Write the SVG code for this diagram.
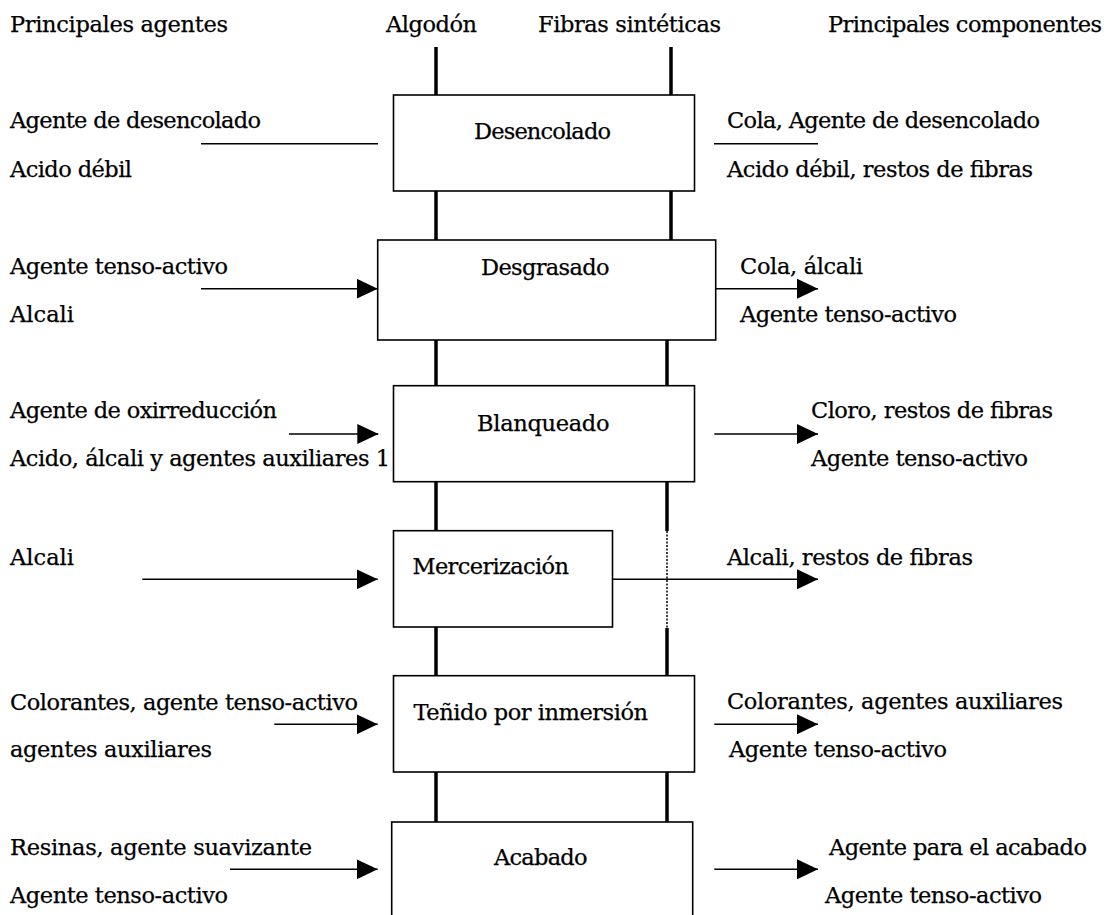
<svg xmlns="http://www.w3.org/2000/svg" width="1109" height="915" viewBox="0 0 1109 915">
<style>
.t{font-family:"DejaVu Serif","Liberation Serif",serif;font-size:22.5px;fill:#000;stroke:#000;stroke-width:0.25}
.box{fill:#fff;stroke:#000;stroke-width:1.6}
.rail{stroke:#000;stroke-width:3.5;fill:none}
.dot{stroke:#000;stroke-width:1.5;stroke-dasharray:2 1.5;fill:none}
.ln{stroke:#000;stroke-width:1.6;fill:none}
.ar{stroke:#000;stroke-width:1.6;fill:none;marker-end:url(#ah)}
</style>
<defs>
<marker id="ah" markerUnits="userSpaceOnUse" markerWidth="21" markerHeight="20" refX="21" refY="10" orient="auto" viewBox="0 0 21 20">
<path d="M0,0 L21,10 L0,20 Z" fill="#000"/>
</marker>
</defs>
<rect width="1109" height="915" fill="#fff"/>
<g id="headers">
<text class="t" x="10" y="32" textLength="218">Principales agentes</text>
<text class="t" x="386" y="32" textLength="91">Algodón</text>
<text class="t" x="538" y="32" textLength="183">Fibras sintéticas</text>
<text class="t" x="828" y="32" textLength="274">Principales componentes</text>
</g>
<g id="rails">
<line class="rail" x1="436" y1="47" x2="436" y2="95"/>
<line class="rail" x1="436" y1="191" x2="436" y2="240"/>
<line class="rail" x1="436" y1="340" x2="436" y2="386"/>
<line class="rail" x1="436" y1="482" x2="436" y2="531"/>
<line class="rail" x1="436" y1="627" x2="436" y2="676"/>
<line class="rail" x1="436" y1="772" x2="436" y2="822"/>
<line class="rail" x1="671" y1="47" x2="671" y2="95"/>
<line class="rail" x1="671" y1="191" x2="671" y2="240"/>
<line class="rail" x1="667" y1="340" x2="667" y2="386"/>
<line class="rail" x1="667" y1="482" x2="667" y2="531"/>
<line class="dot" x1="667" y1="531" x2="667" y2="628"/>
<line class="rail" x1="667" y1="628" x2="667" y2="676"/>
<line class="rail" x1="667" y1="772" x2="667" y2="822"/>
</g>
<g id="connectors">
<line class="ln" x1="201" y1="143.7" x2="378" y2="143.7"/>
<line class="ln" x1="714" y1="143.7" x2="818" y2="143.7"/>
<line class="ar" x1="201" y1="288.7" x2="377.7" y2="288.7"/>
<line class="ar" x1="715.7" y1="288.7" x2="818" y2="288.7"/>
<line class="ar" x1="289" y1="434" x2="378.3" y2="434"/>
<line class="ar" x1="714.3" y1="434" x2="818" y2="434"/>
<line class="ar" x1="142.3" y1="579.3" x2="377.7" y2="579.3"/>
<line class="ar" x1="612.7" y1="579.3" x2="818" y2="579.3"/>
<line class="ar" x1="274.3" y1="724.3" x2="377.7" y2="724.3"/>
<line class="ar" x1="714.3" y1="724.3" x2="818" y2="724.3"/>
<line class="ar" x1="230" y1="869.3" x2="377.7" y2="869.3"/>
<line class="ar" x1="714.3" y1="869.3" x2="818" y2="869.3"/>
</g>
<g id="desencolado">
<rect class="box" x="393.5" y="95" width="301" height="96"/>
<text class="t" x="474" y="139.3" textLength="137">Desencolado</text>
<text class="t" x="10" y="128.3" textLength="251">Agente de desencolado</text>
<text class="t" x="10" y="176.7" textLength="122">Acido débil</text>
<text class="t" x="727" y="128.3" textLength="313">Cola, Agente de desencolado</text>
<text class="t" x="727" y="176.7" textLength="306">Acido débil, restos de fibras</text>
</g>
<g id="desgrasado">
<rect class="box" x="377.7" y="240" width="338" height="100"/>
<text class="t" x="481" y="275" textLength="128.5">Desgrasado</text>
<text class="t" x="10" y="274" textLength="218">Agente tenso-activo</text>
<text class="t" x="10" y="321.7" textLength="64">Alcali</text>
<text class="t" x="740" y="273.5" textLength="123">Cola, álcali</text>
<text class="t" x="740" y="321.7" textLength="217">Agente tenso-activo</text>
</g>
<g id="blanqueado">
<rect class="box" x="393.5" y="385.7" width="301" height="96"/>
<text class="t" x="477" y="430.7" textLength="132.5">Blanqueado</text>
<text class="t" x="10" y="418.3" textLength="267">Agente de oxirreducción</text>
<text class="t" x="10" y="466" textLength="380">Acido, álcali y agentes auxiliares 1</text>
<text class="t" x="811" y="418.3" textLength="242">Cloro, restos de fibras</text>
<text class="t" x="811" y="466" textLength="217">Agente tenso-activo</text>
</g>
<g id="mercerizacion">
<rect class="box" x="393.5" y="530.7" width="219" height="96.3"/>
<text class="t" x="412.5" y="574" textLength="156.5">Mercerización</text>
<text class="t" x="10" y="565" textLength="64">Alcali</text>
<text class="t" x="727" y="565" textLength="246">Alcali, restos de fibras</text>
</g>
<g id="tenido">
<rect class="box" x="393.5" y="675.7" width="301" height="96.3"/>
<text class="t" x="413.5" y="720" textLength="234.5">Teñido por inmersión</text>
<text class="t" x="10" y="710" textLength="348">Colorantes, agente tenso-activo</text>
<text class="t" x="10" y="757.3" textLength="202">agentes auxiliares</text>
<text class="t" x="727" y="709.3" textLength="336">Colorantes, agentes auxiliares</text>
<text class="t" x="729" y="756.7" textLength="218">Agente tenso-activo</text>
</g>
<g id="acabado">
<rect class="box" x="391.7" y="822" width="301" height="120"/>
<text class="t" x="494" y="865" textLength="93.5">Acabado</text>
<text class="t" x="10" y="855" textLength="302">Resinas, agente suavizante</text>
<text class="t" x="10" y="903.3" textLength="218">Agente tenso-activo</text>
<text class="t" x="829" y="855" textLength="258">Agente para el acabado</text>
<text class="t" x="825" y="903.3" textLength="217">Agente tenso-activo</text>
</g>
</svg>
